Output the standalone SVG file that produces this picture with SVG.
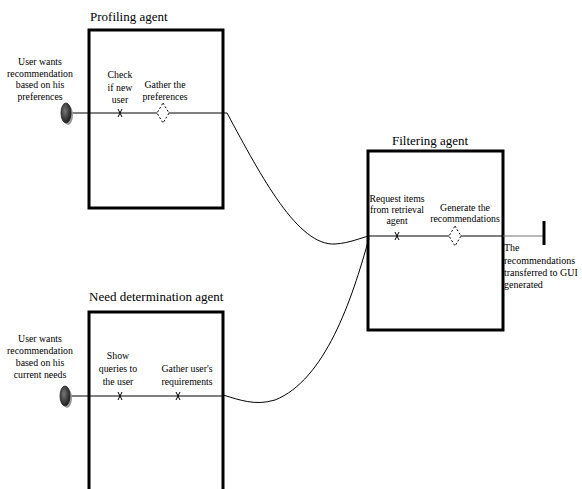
<svg xmlns="http://www.w3.org/2000/svg" width="582" height="489" viewBox="0 0 582 489" font-family="'Liberation Serif', 'DejaVu Serif', serif">
  <defs>
    <radialGradient id="startFill" cx="0.4" cy="0.4" r="0.7">
      <stop offset="0" stop-color="#777"/>
      <stop offset="1" stop-color="#111"/>
    </radialGradient>
    <g id="startPoint">
      <ellipse cx="2" cy="2" rx="5" ry="10" fill="#9a9a9a"/>
      <ellipse cx="0" cy="0" rx="5" ry="10" fill="url(#startFill)" stroke="#222" stroke-width="0.8"/>
    </g>
    <path id="xMark" d="M-2,-4 Q0,0 2,4 M2,-4 Q0,0 -2,4" fill="none" stroke="#000" stroke-width="1"/>
    <path id="diamond" d="M0,-10 L6,0 L0,10 L-6,0 Z" fill="#fff" stroke="#000" stroke-width="1" stroke-dasharray="2,2"/>
  </defs>
  <style>
    .agent { fill: #fff; stroke: #000; stroke-width: 3; }
    text { font-family: "Liberation Serif", "DejaVu Serif", serif; fill: #000; }
    .title { font-size: 13px; }
    .lbl { font-size: 9.8px; text-anchor: middle; }
    .lblL { font-size: 10px; }
    .flow { fill: none; stroke: #000; stroke-width: 1; }
    .conn { fill: none; stroke: #000; stroke-width: 1; }
  </style>
  <rect width="582" height="489" fill="#fff"/>

  <!-- Profiling agent -->
  <g id="profiling-agent">
    <text class="title" x="90" y="21">Profiling agent</text>
    <rect class="agent" x="89" y="30" width="134" height="178"/>
    <line class="flow" x1="66" y1="113" x2="227" y2="113"/>
    <use href="#startPoint" x="66" y="113"/>
    <text class="lbl" x="40" y="65">User wants</text>
    <text class="lbl" x="40" y="77">recommendation</text>
    <text class="lbl" x="40" y="88">based on his</text>
    <text class="lbl" x="40" y="100">preferences</text>
    <text class="lbl" x="120" y="78">Check</text>
    <text class="lbl" x="120" y="91">if new</text>
    <text class="lbl" x="120" y="103">user</text>
    <use href="#xMark" x="120" y="113"/>
    <text class="lbl" x="165" y="88">Gather the</text>
    <text class="lbl" x="165" y="100">preferences</text>
    <use href="#diamond" x="163" y="113"/>
  </g>

  <!-- Need determination agent -->
  <g id="need-determination-agent">
    <text class="title" x="89" y="301">Need determination agent</text>
    <rect class="agent" x="89" y="312" width="134" height="190"/>
    <line class="flow" x1="65" y1="396" x2="223" y2="396"/>
    <use href="#startPoint" x="65" y="396"/>
    <text class="lbl" x="40" y="342">User wants</text>
    <text class="lbl" x="40" y="354">recommendation</text>
    <text class="lbl" x="40" y="366">based on his</text>
    <text class="lbl" x="40" y="378">current needs</text>
    <text class="lbl" x="118" y="359">Show</text>
    <text class="lbl" x="118" y="372">queries to</text>
    <text class="lbl" x="118" y="385">the user</text>
    <use href="#xMark" x="120" y="396"/>
    <text class="lbl" x="187" y="372">Gather user's</text>
    <text class="lbl" x="187" y="385">requirements</text>
    <use href="#xMark" x="178" y="396"/>
  </g>

  <!-- Filtering agent -->
  <g id="filtering-agent">
    <text class="title" x="392" y="145">Filtering agent</text>
    <rect class="agent" x="368" y="151" width="135" height="179"/>
    <line class="flow" x1="368" y1="236" x2="503" y2="236"/>
    <line x1="503" y1="236" x2="544" y2="236" stroke="#777" stroke-width="1"/>
    <line x1="544" y1="221" x2="544" y2="245" stroke="#000" stroke-width="3"/>
    <text class="lbl" x="397" y="202">Request items</text>
    <text class="lbl" x="397" y="213">from retrieval</text>
    <text class="lbl" x="397" y="224">agent</text>
    <use href="#xMark" x="397" y="236"/>
    <text class="lbl" x="465" y="211">Generate the</text>
    <text class="lbl" x="465" y="222">recommendations</text>
    <use href="#diamond" x="455" y="236"/>
    <text class="lblL" x="504" y="251">The</text>
    <text class="lblL" x="504" y="264">recommendations</text>
    <text class="lblL" x="504" y="276">transferred to GUI</text>
    <text class="lblL" x="504" y="288">generated</text>
  </g>

  <!-- Connectors between agents -->
  <g id="connectors">
    <path class="conn" d="M227,113 C262,178 298,246 335,244 C350,243 360,238 369,236"/>
    <path class="conn" d="M223,395 C240,400 255,406 275,400 C325,380 352,300 369,238"/>
  </g>
</svg>
